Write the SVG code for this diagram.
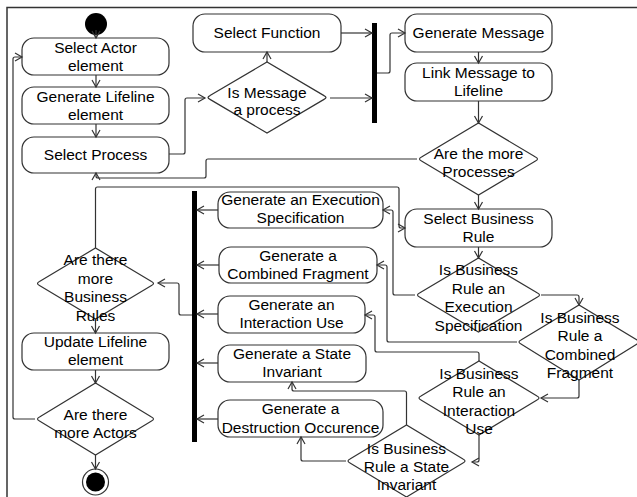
<svg xmlns="http://www.w3.org/2000/svg" width="637" height="497" viewBox="0 0 637 497">
  <style>
    .node { fill: #fff; stroke: #333; stroke-width: 1.2; }
    .bar { fill: #000; }
    .lbl { font-family: "Liberation Sans", Arial, sans-serif; font-size: 15.5px; fill: #000; text-anchor: middle; }
    .edge { fill: none; stroke: #333; stroke-width: 1.2; marker-end: url(#open); }
    .frame { fill: none; stroke: #333; stroke-width: 1.5; }
  </style>
  <defs>
    <marker id="open" markerUnits="userSpaceOnUse" markerWidth="12" markerHeight="12" refX="8" refY="5" orient="auto">
      <path d="M1,1 L8,5 L1,9" fill="none" stroke="#333" stroke-width="1.2"/>
    </marker>
  </defs>

  <rect width="637" height="497" fill="#fff"/>
  <rect class="frame" x="7" y="7.5" width="640" height="500"/>

  <!-- start / end -->
  <g id="start"><circle cx="96" cy="24" r="11" fill="#000"/></g>
  <g id="end">
    <circle cx="95.5" cy="482" r="13" fill="#fff" stroke="#333" stroke-width="1.2"/>
    <circle cx="95.5" cy="482" r="9.5" fill="#000"/>
  </g>

  <!-- actions -->
  <g id="select-actor">
    <rect class="node" x="22" y="38" width="147" height="37" rx="12"/>
    <text class="lbl" x="95.5" y="53">Select Actor</text>
    <text class="lbl" x="95.5" y="71">element</text>
  </g>
  <g id="generate-lifeline">
    <rect class="node" x="22" y="87" width="147" height="37" rx="12"/>
    <text class="lbl" x="95.5" y="102">Generate Lifeline</text>
    <text class="lbl" x="95.5" y="120">element</text>
  </g>
  <g id="select-process">
    <rect class="node" x="22" y="137" width="147" height="36" rx="12"/>
    <text class="lbl" x="95.5" y="160">Select Process</text>
  </g>
  <g id="select-function">
    <rect class="node" x="193" y="14" width="148" height="38" rx="12"/>
    <text class="lbl" x="267" y="38">Select Function</text>
  </g>
  <g id="generate-message">
    <rect class="node" x="405" y="14" width="147" height="38" rx="12"/>
    <text class="lbl" x="478.5" y="38">Generate Message</text>
  </g>
  <g id="link-message">
    <rect class="node" x="405" y="63" width="147" height="38" rx="12"/>
    <text class="lbl" x="478.5" y="77.5">Link Message to</text>
    <text class="lbl" x="478.5" y="95.5">Lifeline</text>
  </g>
  <g id="select-business-rule">
    <rect class="node" x="405" y="209" width="147" height="38" rx="12"/>
    <text class="lbl" x="478.5" y="223.5">Select Business</text>
    <text class="lbl" x="478.5" y="241.5">Rule</text>
  </g>
  <g id="gen-execution-spec">
    <rect class="node" x="218" y="192" width="165" height="36" rx="12"/>
    <text class="lbl" x="300.5" y="205">Generate an Execution</text>
    <text class="lbl" x="300.5" y="223">Specification</text>
  </g>
  <g id="gen-combined-fragment">
    <rect class="node" x="219" y="247" width="158" height="36" rx="12"/>
    <text class="lbl" x="298" y="261">Generate a</text>
    <text class="lbl" x="298" y="278.5">Combined Fragment</text>
  </g>
  <g id="gen-interaction-use">
    <rect class="node" x="218" y="296" width="147" height="37" rx="12"/>
    <text class="lbl" x="291.5" y="310">Generate an</text>
    <text class="lbl" x="291.5" y="328">Interaction Use</text>
  </g>
  <g id="gen-state-invariant">
    <rect class="node" x="218" y="345" width="148" height="37" rx="12"/>
    <text class="lbl" x="292" y="358.5">Generate a State</text>
    <text class="lbl" x="292" y="377">Invariant</text>
  </g>
  <g id="gen-destruction">
    <rect class="node" x="218" y="400" width="165" height="37" rx="12"/>
    <text class="lbl" x="300.5" y="414">Generate a</text>
    <text class="lbl" x="300.5" y="432.5">Destruction Occurence</text>
  </g>
  <g id="update-lifeline">
    <rect class="node" x="22" y="333" width="147" height="37" rx="12"/>
    <text class="lbl" x="95.5" y="347">Update Lifeline</text>
    <text class="lbl" x="95.5" y="365">element</text>
  </g>

  <!-- fork bars -->
  <g id="fork-message"><rect class="bar" x="372" y="23" width="5" height="100"/></g>
  <g id="join-rules"><rect class="bar" x="192" y="191" width="5" height="251"/></g>

  <!-- decisions (diamonds with rounded side corners) -->
  <g id="is-message-process">
    <path class="node" d="M210,95.6 L267,62 L324,95.6 Q328,97.5 324,99.4 L267,133 L210,99.4 Q206,97.5 210,95.6 Z"/>
    <text class="lbl" x="267" y="97.5">Is Message</text>
    <text class="lbl" x="267" y="115">a process</text>
  </g>
  <g id="more-processes">
    <path class="node" d="M421.5,157 L478.5,123 L535.5,157 Q539.5,159 535.5,161 L478.5,195 L421.5,161 Q417.5,159 421.5,157 Z"/>
    <text class="lbl" x="478.5" y="158.5">Are the more</text>
    <text class="lbl" x="478.5" y="176.5">Processes</text>
  </g>
  <g id="is-execution-spec">
    <path class="node" d="M419.5,293 L478.5,258 L537.5,293 Q541.5,295 537.5,297 L478.5,332 L419.5,297 Q415.5,295 419.5,293 Z"/>
    <text class="lbl" x="478.5" y="275">Is Business</text>
    <text class="lbl" x="478.5" y="293.5">Rule an</text>
    <text class="lbl" x="478.5" y="312">Execution</text>
    <text class="lbl" x="478.5" y="330.5">Specification</text>
  </g>
  <g id="is-combined-fragment">
    <path class="node" d="M521,340 L579,305 L637,340 Q641,342 637,344 L579,380 L521,344 Q517,342 521,340 Z"/>
    <text class="lbl" x="580" y="323">Is Business</text>
    <text class="lbl" x="580" y="341">Rule a</text>
    <text class="lbl" x="580" y="359.5">Combined</text>
    <text class="lbl" x="580" y="378">Fragment</text>
  </g>
  <g id="is-interaction-use">
    <path class="node" d="M421,396 L479,361 L537,396 Q541,398 537,400 L479,435 L421,400 Q417,398 421,396 Z"/>
    <text class="lbl" x="479" y="378.5">Is Business</text>
    <text class="lbl" x="479" y="397">Rule an</text>
    <text class="lbl" x="479" y="415.5">Interaction</text>
    <text class="lbl" x="479" y="434">Use</text>
  </g>
  <g id="is-state-invariant">
    <path class="node" d="M350,459 L406.5,425 L463,459 Q467,461 463,463 L406.5,497 L350,463 Q346,461 350,459 Z"/>
    <text class="lbl" x="406.5" y="453.5">Is Business</text>
    <text class="lbl" x="406.5" y="471.5">Rule a State</text>
    <text class="lbl" x="406.5" y="490">Invariant</text>
  </g>
  <g id="more-business-rules">
    <path class="node" d="M39.5,281.5 L95.5,248 L151.5,281.5 Q155.5,283.5 151.5,285.5 L95.5,319 L39.5,285.5 Q35.5,283.5 39.5,281.5 Z"/>
    <text class="lbl" x="95.5" y="265">Are there</text>
    <text class="lbl" x="95.5" y="283.5">more</text>
    <text class="lbl" x="95.5" y="302">Business</text>
    <text class="lbl" x="95.5" y="320.5">Rules</text>
  </g>
  <g id="more-actors">
    <path class="node" d="M39.5,417 L95.5,383 L151.5,417 Q155.5,419 151.5,421 L95.5,455 L39.5,421 Q35.5,419 39.5,417 Z"/>
    <text class="lbl" x="95.5" y="420">Are there</text>
    <text class="lbl" x="95.5" y="437.5">more Actors</text>
  </g>

  <!-- connectors -->
  <g id="connectors">
    <path class="edge" d="M96,30 V38"/>
    <path class="edge" d="M96,75 V87"/>
    <path class="edge" d="M96,124 V137"/>
    <path class="edge" d="M169,154 H183 Q185,154 185,152 V100 Q185,98 187,98 H205"/>
    <path class="edge" d="M267,62 V52"/>
    <path class="edge" d="M341,33 H372"/>
    <path class="edge" d="M330,98 H372"/>
    <path class="edge" d="M377,73 H388 Q390,73 390,71 V35 Q390,33 392,33 H405"/>
    <path class="edge" d="M478.5,52 V63"/>
    <path class="edge" d="M478.5,101 V123"/>
    <path class="edge" d="M417,159 H208 Q206,159 206,161 V176 Q206,178 204,178 H98 Q96,178 96,176 V173"/>
    <path class="edge" d="M478.5,195 V209"/>
    <path class="edge" d="M95.5,248 V189 Q95.5,187 97.5,187 H397 Q399,187 399,189 V226 Q399,228 401,228 H405"/>
    <path class="edge" d="M478.5,247 V258"/>
    <path class="edge" d="M415,295 H395 Q393,295 393,293 V212 Q393,210 391,210 H383"/>
    <path class="edge" d="M541,295 H577 Q579,295 579,297 V305"/>
    <path class="edge" d="M517,342 H389 Q387,342 387,340 V267 Q387,265 385,265 H377"/>
    <path class="edge" d="M579,380 V396 Q579,398 577,398 H541"/>
    <path class="edge" d="M479,361 V354 Q479,352 477,352 H377 Q375,352 375,350 V317 Q375,315 373,315 H365"/>
    <path class="edge" d="M479,435 V460 Q479,462 477,462 H472"/>
    <path class="edge" d="M406.5,425 V393 Q406.5,391 404.5,391 H294 Q292,391 292,389 V382"/>
    <path class="edge" d="M346,461 H303 Q301,461 301,459 V437"/>
    <path class="edge" d="M218,210 H197"/>
    <path class="edge" d="M219,265 H197"/>
    <path class="edge" d="M218,314 H197"/>
    <path class="edge" d="M218,363 H197"/>
    <path class="edge" d="M218,419 H197"/>
    <path class="edge" d="M192,315 H181 Q179,315 179,313 V285 Q179,283 177,283 H158"/>
    <path class="edge" d="M95.5,319 V333"/>
    <path class="edge" d="M95.5,370 V383"/>
    <path class="edge" d="M95.5,455 V469"/>
    <path class="edge" d="M35,419 H15 Q13,419 13,417 V59 Q13,57 15,57 H22"/>
  </g>
</svg>
